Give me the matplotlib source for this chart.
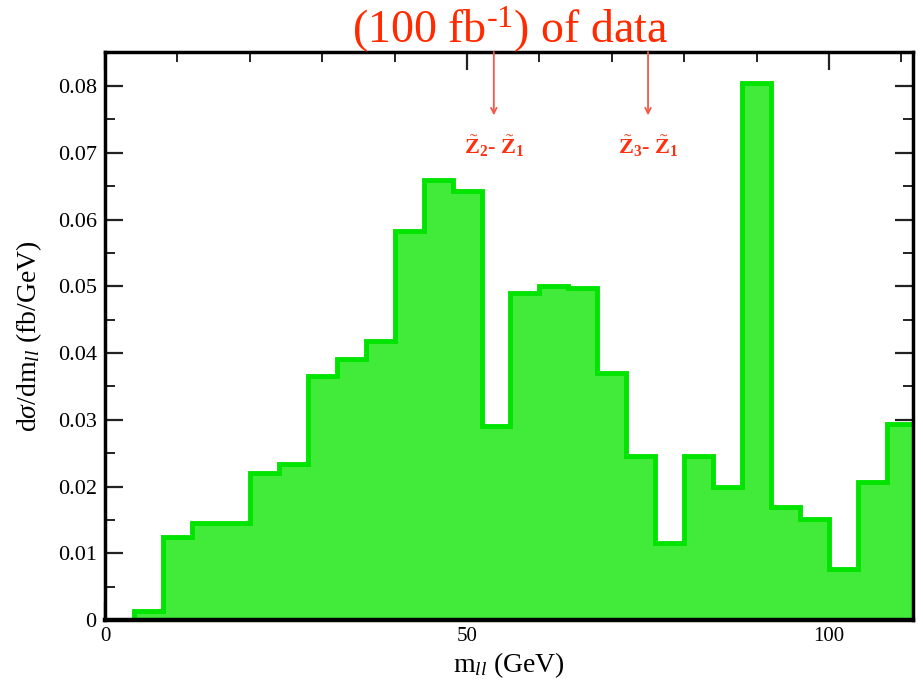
import numpy as np
import matplotlib
matplotlib.use("Agg")
import matplotlib.pyplot as plt
from matplotlib.ticker import MultipleLocator

plt.rcParams['font.family'] = ['Liberation Serif', 'DejaVu Serif']
plt.rcParams['mathtext.fontset'] = 'custom'
plt.rcParams['mathtext.rm'] = 'Liberation Serif'
plt.rcParams['mathtext.it'] = 'Liberation Serif:italic'
plt.rcParams['mathtext.bf'] = 'Liberation Serif:bold'

# bin edges (GeV) and values dsigma/dm (fb/GeV)
bin_edges = [4, 8, 12, 16, 20, 24, 28, 32, 36, 40, 44, 48, 52, 56, 60, 64, 68,
             72, 76, 80, 84, 88, 92, 96, 100, 104, 108, 112]
values = [0.0013, 0.0125, 0.0145, 0.0145, 0.0221, 0.0233, 0.0366, 0.0391, 0.0418,
          0.0583, 0.0659, 0.0643, 0.0291, 0.0490, 0.0500, 0.0498, 0.0370, 0.0246,
          0.0116, 0.0246, 0.0200, 0.0804, 0.0170, 0.0152, 0.0077, 0.0207, 0.0293]
arrow_x = [53.7, 75.0]
arrow_labels = [r'$\tilde{\mathbf{Z}}_{\mathbf{2}}$$\mathbf{\text{- }}$$\tilde{\mathbf{Z}}_{\mathbf{1}}$',
                r'$\tilde{\mathbf{Z}}_{\mathbf{3}}$$\mathbf{\text{- }}$$\tilde{\mathbf{Z}}_{\mathbf{1}}$']
title_text = r'(100 fb$^{\text{-1}}$) of data'

fig = plt.figure(figsize=(9.23, 6.83), dpi=100)
ax = fig.add_axes([0.1138, 0.0922, 0.9892 - 0.1138, 0.9239 - 0.0922])

edges = np.array(bin_edges, dtype=float)
vals = np.array(values)
ax.stairs(vals, edges, fill=True, color='#42EB3A', zorder=2)
ax.stairs(vals, edges, fill=False, color='#00E400', linewidth=3.5, zorder=3)

ax.set_xlim(0, 111.6)
ax.set_ylim(0, 0.0851)

ax.xaxis.set_major_locator(MultipleLocator(50))
ax.xaxis.set_minor_locator(MultipleLocator(10))
ax.yaxis.set_major_locator(MultipleLocator(0.01))
ax.yaxis.set_minor_locator(MultipleLocator(0.005))
ax.tick_params(which='both', direction='in', top=True, right=True, color='#222222')
ax.tick_params(which='major', length=13, width=1.6)
ax.tick_params(which='minor', length=7, width=1.4)
ax.tick_params(axis='y', labelsize=16, pad=6)
ax.tick_params(axis='x', labelsize=15, pad=5)

def yfmt(v, pos):
    if abs(v) < 1e-9:
        return '0'
    return '%.2f' % v
ax.yaxis.set_major_formatter(plt.FuncFormatter(yfmt))
ax.xaxis.set_major_formatter(plt.FuncFormatter(lambda v, p: '%d' % v))

for s in ax.spines.values():
    s.set_linewidth(2.5)
    s.set_color('black')
    s.set_zorder(5)
ax.spines['bottom'].set_linewidth(3.2)

ax.set_xlabel(r'm$_{ll}$ (GeV)', fontsize=20, labelpad=3)
ax.set_ylabel(r'd$\sigma$/dm$_{ll}$ (fb/GeV)', fontsize=20, labelpad=10)

for xa, lab in zip(arrow_x, arrow_labels):
    ax.annotate('', xy=(xa, 0.0756), xytext=(xa, 0.0851),
                arrowprops=dict(arrowstyle='->', color='#F25A4A', lw=1.3,
                                shrinkA=0, shrinkB=0), zorder=6)
    ax.text(xa, 0.0710, lab, color='#FF3010', fontsize=16, ha='center', va='center',
            zorder=6)

fig.text(0.553, 1 - 43 / 683, title_text, color='#FF2A00', fontsize=33, ha='center',
         va='baseline')

fig.savefig('out.png', dpi=100)
